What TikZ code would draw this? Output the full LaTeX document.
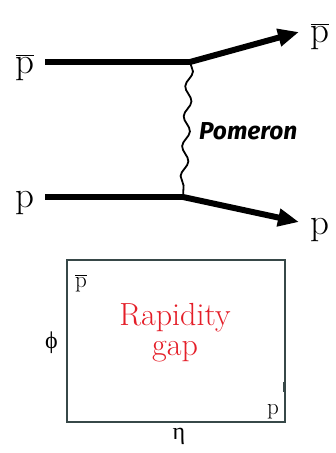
\documentclass[tikz,border=0pt]{standalone}
\usepackage{fontspec}
\newfontfamily\pomfont{Fira Sans}
\newfontfamily\grk{Liberation Serif}
\usetikzlibrary{arrows.meta,decorations.pathmorphing}
\definecolor{gapred}{RGB}{228,30,40}
\definecolor{boxcol}{RGB}{55,72,72}
\tikzset{
  lbl/.style={inner sep=0pt, font=\fontsize{37}{37}\selectfont},
  small/.style={inner sep=0pt, font=\fontsize{23}{23}\selectfont},
  prop/.style={line width=6pt},
  outarrow/.style={line width=6pt, -{Triangle[length=21pt,width=17pt]}},
  wave/.style={line width=1.8pt, decorate, decoration={snake, segment length=30pt, amplitude=3.5pt}}
}
\begin{document}
\begin{tikzpicture}[x=1pt,y=-1pt]
\useasboundingbox (0,0) rectangle (336,453);
% upper diagram
\coordinate (tl) at (45,62);
\coordinate (tv) at (190,62);
\coordinate (bl) at (45,197);
\coordinate (bv) at (183,197);
\coordinate (tr) at (299,32);
\coordinate (br) at (299,222);
\node[lbl, anchor=base] (pbarin) at (25,73) {$\overline{\mathrm{p}}$};
\node[lbl, anchor=base] (pin) at (25,207) {p};
\node[lbl, anchor=base] (pbarout) at (320,42) {$\overline{\mathrm{p}}$};
\node[lbl, anchor=base] (pout) at (320,234) {p};
\draw[prop] (tl) -- (tv);
\draw[prop] (bl) -- (bv);
\draw[wave] (tv) -- (bv);
\draw[outarrow] (tv) -- (tr);
\draw[outarrow] (bv) -- (br);
\node[inner sep=0pt, anchor=west, font=\pomfont\bfseries\itshape\fontsize{24.5}{24.5}\selectfont] (pom) at (199,131) {Pomeron};
% lower diagram
\node[draw=boxcol, line width=1.5pt, minimum width=218pt, minimum height=162pt, inner sep=0pt] (box) at (176,341) {};
\node[small, anchor=base west] (pbarb) at (75,287) {$\overline{\mathrm{p}}$};
\node[small, anchor=base east] (pb) at (279,414) {p};
\draw[boxcol, line width=1pt] (283,382) -- (283,392);
\node[inner sep=0pt, align=center, text=gapred, font=\fontsize{32}{30}\selectfont] (gap) at (175,333) {Rapidity\\gap};
\node[small, anchor=east, font=\grk\fontsize{24}{24}\selectfont] (phi) at (58,343) {ϕ};
\node[small, anchor=north, font=\grk\fontsize{24}{24}\selectfont] (eta) at (179,428) {η};
\end{tikzpicture}
\end{document}
